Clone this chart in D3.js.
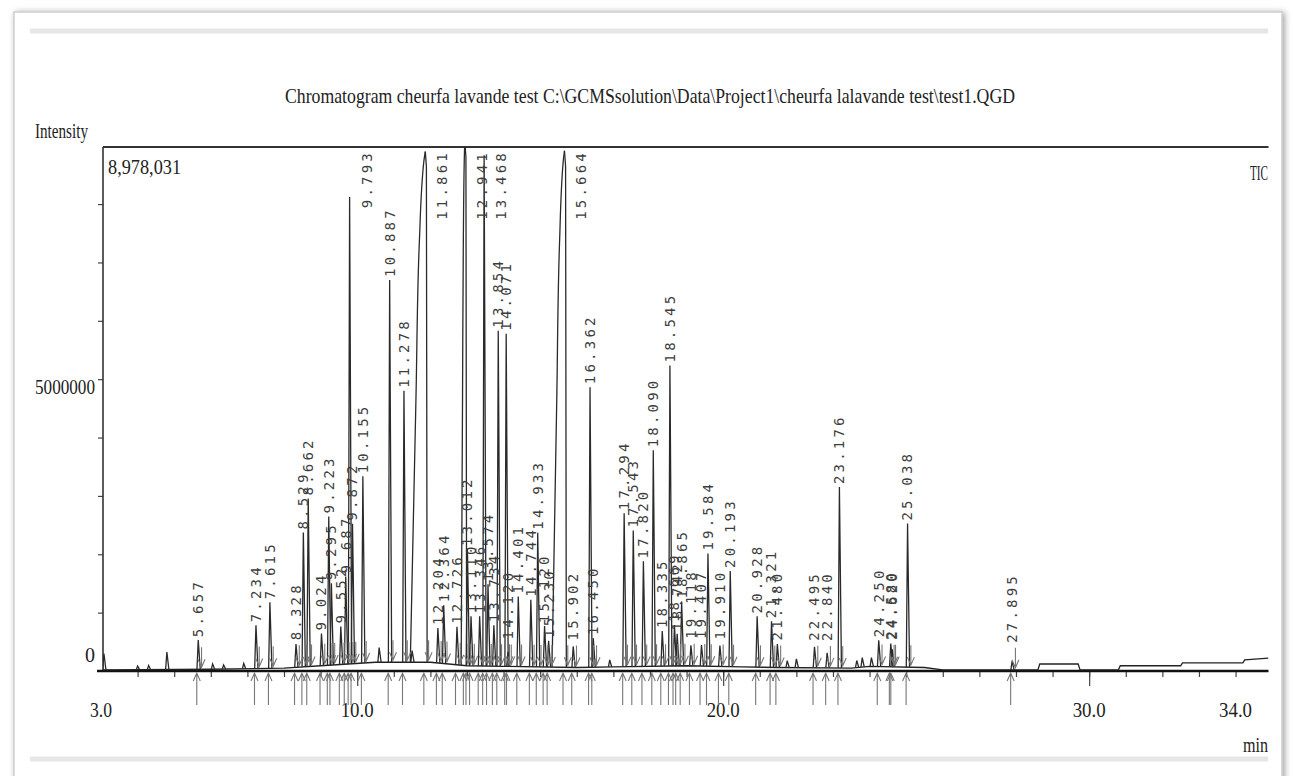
<!DOCTYPE html>
<html>
<head>
<meta charset="utf-8">
<script src="https://cdn.jsdelivr.net/npm/d3@7"></script>
<style>
  body { margin: 0; background: #fff; }
</style>
</head>
<body>
<div id="container"></div>
<script>
/* DATA */
// labelled peaks: retention time (min) and height (intensity)
const peakTimes = [5.657, 7.234, 7.615, 8.328, 8.529, 8.662, 9.024, 9.223, 9.295, 9.552,
  9.687, 9.793, 9.872, 10.155, 10.887, 11.278, 11.861, 12.204, 12.364, 12.726,
  12.941, 13.012, 13.110, 13.346, 13.468, 13.574, 13.734, 13.854, 14.071, 14.120,
  14.401, 14.744, 14.933, 15.120, 15.230, 15.664, 15.902, 16.362, 16.450, 17.294,
  17.543, 17.820, 18.090, 18.335, 18.545, 18.669, 18.742, 18.865, 19.118, 19.407,
  19.584, 19.910, 20.193, 20.928, 21.321, 21.480, 22.495, 22.840, 23.176, 24.250,
  24.580, 24.620, 25.038, 27.895]
const peakHeights = [500000, 740000, 1130000, 400000, 2300000, 2880000, 550000, 2550000, 1400000, 650000,
  1500000, 8000000, 2400000, 3200000, 6550000, 4650000, 8750000, 600000, 1000000, 650000,
  8978031, 2000000, 850000, 850000, 8750000, 1400000, 700000, 5750000, 5700000, 250000,
  1200000, 1150000, 2300000, 700000, 450000, 8850000, 360000, 4800000, 500000, 2630000,
  2330000, 1800000, 3700000, 600000, 5150000, 700000, 550000, 1100000, 350000, 360000,
  1930000, 360000, 1640000, 870000, 790000, 400000, 360000, 260000, 3100000, 450000,
  400000, 300000, 2460000, 150000]
// overloaded (fronting) peaks and their front width (min)
const frontTimes = [11.861, 12.941, 15.664]
const frontWidths = [0.41, 0.1, 0.34]

// small unlabelled bumps on the baseline
const bumpTimes = [3.08, 4.0, 4.3, 4.8, 6.05, 6.35, 6.9, 10.6, 11.5, 16.9, 21.75, 22.0, 23.65, 23.8, 24.05]
const bumpHeights = [280000, 60000, 70000, 300000, 90000, 70000, 90000, 250000, 200000, 120000, 120000, 150000, 120000, 160000, 150000]

// baseline drift
const baseTimes = [3.0, 6.0, 8.0, 9.0, 10.5, 12.0, 13.0, 14.0, 16.0, 17.0, 19.0, 20.5, 21.5, 23.5, 24.0, 25.5, 26.0,
  28.6, 28.65, 29.7, 29.75, 30.8, 30.85, 32.5, 32.55, 34.2, 34.25, 34.9]
const baseValues = [20000, 30000, 50000, 90000, 150000, 150000, 90000, 80000, 60000, 70000, 90000, 70000, 60000, 50000, 80000, 60000, 20000,
  20000, 120000, 120000, 20000, 20000, 90000, 90000, 140000, 140000, 190000, 220000]

const majorTicks = [10, 20, 30]
const xTickLabels = [3.0, 10.0, 20.0, 30.0, 34.0]
const yTickLabels = [0, 5000000]
const yMax = 8978031

/* SIZES */
const width = 1293
const height = 776
const plotLeft = 101, plotRight = 1268.5, plotTop = 147, plotBottom = 671

const svg = d3.select("#container")
  .append("svg")
  .attr("width", width)
  .attr("height", height)
  .style("font-family", "'Liberation Serif', serif")

// picture frame with soft shadow
const defs = svg.append("defs")
const f = defs.append("filter").attr("id", "shadow").attr("x", "-5%").attr("y", "-5%").attr("width", "110%").attr("height", "110%")
f.append("feGaussianBlur").attr("in", "SourceAlpha").attr("stdDeviation", 3)
f.append("feOffset").attr("dx", 2).attr("dy", 1).attr("result", "b")
f.append("feFlood").attr("flood-color", "#888").attr("flood-opacity", 0.8)
f.append("feComposite").attr("in2", "b").attr("operator", "in")
const fm = f.append("feMerge")
fm.append("feMergeNode")
fm.append("feMergeNode").attr("in", "SourceGraphic")

defs.append("clipPath").attr("id", "plotclip")
  .append("rect")
  .attr("x", plotLeft + 2).attr("y", plotTop)
  .attr("width", plotRight - plotLeft - 2).attr("height", plotBottom - plotTop + 1)

svg.append("rect")
  .attr("x", 14).attr("y", 12).attr("width", 1268).attr("height", 800)
  .attr("fill", "#fff").attr("stroke", "#cfcfcf").attr("stroke-width", 1.5)
  .attr("filter", "url(#shadow)")
svg.append("line").attr("x1", 30).attr("x2", 1268).attr("y1", 31).attr("y2", 31)
  .attr("stroke", "#e6e6e6").attr("stroke-width", 5)
svg.append("line").attr("x1", 30).attr("x2", 1268).attr("y1", 759).attr("y2", 759)
  .attr("stroke", "#e6e6e6").attr("stroke-width", 5)

/* SCALES */
const xScale = d3.scaleLinear().domain([3.0, 34.9]).range([plotLeft, plotRight])
const yScale = d3.scaleLinear().domain([0, yMax]).range([plotBottom, plotTop])
const baseAt = d3.scaleLinear().domain(baseTimes).range(baseValues)

/* AXES */
svg.append("g")
  .attr("transform", `translate(0,${plotBottom})`)
  .call(d3.axisBottom(xScale).tickValues(d3.range(4, 35)).tickSize(6).tickFormat(""))
  .call(g => g.select(".domain").remove())
  .call(g => g.selectAll("line").attr("stroke", "#444").attr("stroke-width", 1.2))
svg.append("g")
  .attr("transform", `translate(0,${plotBottom})`)
  .call(d3.axisBottom(xScale).tickValues(majorTicks).tickSize(15).tickFormat(""))
  .call(g => g.select(".domain").remove())
  .call(g => g.selectAll("line").attr("stroke", "#444").attr("stroke-width", 1.2))

svg.append("g")
  .attr("transform", `translate(${plotLeft + 2},0)`)
  .call(d3.axisLeft(yScale).tickValues(d3.range(1000000, 9000000, 1000000)).tickSize(5).tickFormat(""))
  .call(g => g.select(".domain").remove())
  .call(g => g.selectAll("line").attr("stroke", "#444").attr("stroke-width", 1.2))

// frame lines
svg.append("line").attr("x1", plotLeft + 2).attr("x2", plotRight).attr("y1", plotTop).attr("y2", plotTop)
  .attr("stroke", "#333").attr("stroke-width", 2)
svg.append("line").attr("x1", plotLeft + 2).attr("x2", plotLeft + 2).attr("y1", plotTop).attr("y2", plotBottom)
  .attr("stroke", "#333").attr("stroke-width", 1.6)
svg.append("line").attr("x1", plotLeft - 4).attr("x2", plotRight).attr("y1", plotBottom).attr("y2", plotBottom)
  .attr("stroke", "#111").attr("stroke-width", 2.6)

// tick labels
svg.selectAll(".xlab")
  .data(xTickLabels)
  .join("text")
  .attr("x", d => xScale(d))
  .attr("y", 717)
  .attr("text-anchor", "middle")
  .attr("font-size", 22)
  .attr("textLength", d => d >= 10 ? 33 : 22)
  .attr("lengthAdjust", "spacingAndGlyphs")
  .attr("fill", "#222")
  .text(d => d.toFixed(1))

svg.selectAll(".ylab")
  .data(yTickLabels)
  .join("text")
  .attr("x", 95)
  .attr("y", d => yScale(d) + (d === 0 ? -9 : 15))
  .attr("text-anchor", "end")
  .attr("font-size", 22)
  .attr("textLength", d => d === 0 ? 10 : 60)
  .attr("lengthAdjust", "spacingAndGlyphs")
  .attr("fill", "#222")
  .text(d => String(d))

// other texts
const addText = (x, y, s, size, len, anchor) => svg.append("text")
  .attr("x", x).attr("y", y).attr("font-size", size)
  .attr("text-anchor", anchor || "start")
  .attr("textLength", len).attr("lengthAdjust", "spacingAndGlyphs")
  .attr("fill", "#222").text(s)

addText(285, 103, "Chromatogram cheurfa lavande test C:\\GCMSsolution\\Data\\Project1\\cheurfa lalavande test\\test1.QGD", 21, 730)
addText(35, 138, "Intensity", 20, 53)
addText(108, 174, d3.format(",")(yMax), 21, 73)
addText(1250, 180, "TIC", 20, 18)
addText(1243, 752, "min", 21, 25)

/* TRACE */
const trace = svg.append("g").attr("clip-path", "url(#plotclip)")
const line = d3.line().x(d => xScale(d[0])).y(d => yScale(d[1]))

trace.append("path")
  .datum(d3.zip(baseTimes, baseValues))
  .attr("d", line)
  .attr("fill", "none").attr("stroke", "#222").attr("stroke-width", 1.3)

// ordinary narrow peaks
const narrow = peakTimes.map((t, i) => ({ t, h: peakHeights[i] }))
  .filter(d => !frontTimes.includes(d.t))
  .concat(bumpTimes.map((t, i) => ({ t, h: bumpHeights[i] })))

trace.selectAll(".peak")
  .data(narrow)
  .join("path")
  .attr("d", d => line([[d.t - 0.035, baseAt(d.t)], [d.t, baseAt(d.t) + d.h], [d.t + 0.055, baseAt(d.t)]]))
  .attr("fill", "none").attr("stroke", "#2a2a2a").attr("stroke-width", 1.3)

// fronting, overloaded peaks
const curve = d3.line().x(d => xScale(d[0])).y(d => yScale(d[1])).curve(d3.curveMonotoneY)
frontTimes.forEach((t, i) => {
  const h = peakHeights[peakTimes.indexOf(t)]
  const w = frontWidths[i]
  const b = baseAt(t)
  trace.append("path")
    .attr("d", curve([[t - w, b], [t - w * 0.62, b + h * 0.52], [t - w * 0.4, b + h * 0.82], [t - w * 0.1, b + h * 0.98], [t, b + h]]))
    .attr("fill", "none").attr("stroke", "#2a2a2a").attr("stroke-width", 1.3)
  trace.append("path")
    .attr("d", line([[t, b + h], [t + 0.03, b + h * 0.97], [t + 0.05, b]]))
    .attr("fill", "none").attr("stroke", "#2a2a2a").attr("stroke-width", 1.3)
})

/* INTEGRATION ARROWS */
const arrows = svg.append("g").attr("stroke", "#777").attr("stroke-width", 1.1).attr("fill", "none")
peakTimes.forEach(t => {
  const xu = xScale(t - 0.04)
  arrows.append("path").attr("d", `M${xu},${plotBottom + 34}V${plotBottom + 2}M${xu - 3.5},${plotBottom + 10}L${xu},${plotBottom + 2}L${xu + 3.5},${plotBottom + 10}`)
  const xd = xScale(t + 0.09)
  const yb = yScale(baseAt(t))
  arrows.append("path").attr("d", `M${xd},${yb - 22}V${yb - 2}M${xd - 3.5},${yb - 10}L${xd},${yb - 2}L${xd + 3.5},${yb - 10}`)
})

/* PEAK LABELS */
const labelLen = 71
svg.append("g")
  .selectAll("text")
  .data(peakTimes.map((t, i) => ({ t, h: peakHeights[i] })))
  .join("text")
  .each(function (d) {
    const px = xScale(d.t)
    const yb = yScale(baseAt(d.t))
    const yTop = yScale(baseAt(d.t) + d.h)
    let bottom = Math.min(yTop, yb - 24) - 3
    let x = px, y = bottom, anchor = "start"
    if (bottom - labelLen < plotTop + 2) {
      x = px + 17
      y = plotTop + 3
      anchor = "end"
    }
    d3.select(this)
      .attr("transform", `translate(${x},${y}) rotate(-90)`)
      .attr("text-anchor", anchor)
  })
  .attr("dy", "0.35em")
  .attr("font-family", "'DejaVu Sans Mono', monospace")
  .attr("font-size", 14)
  .attr("letter-spacing", 3.2)
  .attr("fill", "#3c3c3c")
  .text(d => d.t.toFixed(3))
</script>
</body>
</html>
